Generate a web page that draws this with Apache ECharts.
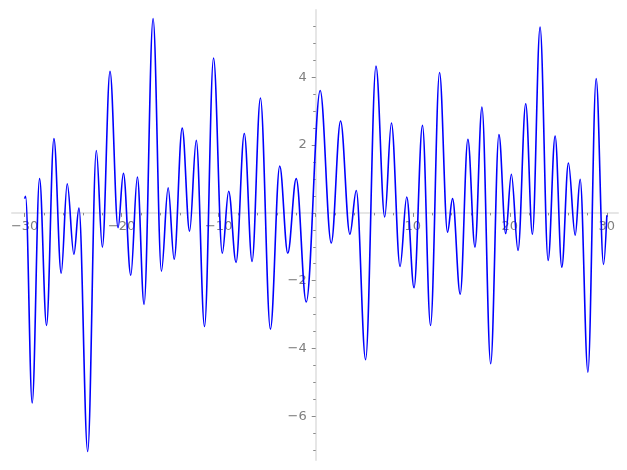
<!DOCTYPE html>
<html>
<head>
<meta charset="utf-8">
<style>html,body{margin:0;padding:0;background:#fff}#c{width:627px;height:470px}</style>
<script src="https://cdn.jsdelivr.net/npm/echarts@6/dist/echarts.min.js"></script>
</head>
<body>
<div id="c"></div>
<script>
// Curve samples (extrema of the curve)
const xValues = [-30, -29.9, -29.22, -28.46, -27.74, -26.98, -26.23, -25.61, -24.92, -24.40,
  -23.50, -22.61, -21.99, -21.20, -20.37, -19.82, -19.06, -18.38, -17.69, -16.76,
  -15.90, -15.21, -14.59, -13.76, -13.00, -12.31, -11.46, -10.53, -9.63, -8.97,
  -8.21, -7.36, -6.56, -5.70, -4.67, -3.71, -2.88, -2.01, -0.98, 0.46,
  1.60, 2.56, 3.52, 4.18, 5.14, 6.21, 7.11, 7.80, 8.69, 9.38,
  10.13, 11.00, 11.83, 12.76, 13.58, 14.10, 14.89, 15.68, 16.41, 17.13,
  18.03, 18.88, 19.58, 20.16, 20.85, 21.64, 22.33, 23.12, 23.95, 24.67,
  25.36, 26.04, 26.74, 27.25, 28.05, 28.90, 29.66, 30];
const yValues = [0.42, 0.49, -5.61, 1.01, -3.32, 2.19, -1.78, 0.86, -1.22, 0.14,
  -7.04, 1.84, -1.01, 4.18, -0.44, 1.17, -1.84, 1.06, -2.70, 5.73,
  -1.72, 0.74, -1.37, 2.50, -0.54, 2.14, -3.35, 4.57, -1.19, 0.64,
  -1.46, 2.34, -1.43, 3.39, -3.43, 1.38, -1.19, 1.01, -2.63, 3.61,
  -0.89, 2.71, -0.63, 0.66, -4.33, 4.33, -0.12, 2.65, -1.58, 0.47,
  -2.21, 2.58, -3.32, 4.14, -0.57, 0.42, -2.40, 2.17, -1.01, 3.12,
  -4.45, 2.31, -0.61, 1.14, -1.11, 3.22, -0.63, 5.48, -1.40, 2.27,
  -1.60, 1.47, -0.66, 0.99, -4.70, 3.96, -1.52, -0.07];

const xMajorTicks = [-30, -20, -10, 0, 10, 20, 30];
const xTickLabels = [-30, -20, -10, 10, 20, 30];
const xMinorTicks = [-28, -26, -24, -22, -18, -16, -14, -12, -8, -6, -4, -2,
  2, 4, 6, 8, 12, 14, 16, 18, 22, 24, 26, 28];
const yMajorTicks = [-6, -4, -2, 0, 2, 4];
const yTickLabels = [-6, -4, -2, 2, 4];
const yMinorTicks = [-7, -6.5, -5.5, -5, -4.5, -3.5, -3, -2.5, -1.5, -1, -0.5,
  0.5, 1, 1.5, 2.5, 3, 3.5, 4.5, 5, 5.5];

const X_MIN = -31.3, X_MAX = 31.15, Y_MIN = -7.29, Y_MAX = 5.985;

const W = 627, H = 470;
const G = {left: 12, right: 9, top: 10, bottom: 10};
const gw = W - G.left - G.right, gh = H - G.top - G.bottom;
// place the axes through the origin (spines at zero)
const yAxisOffset = -((0 - X_MIN) / (X_MAX - X_MIN) * gw);
const xAxisOffset = -((0 - Y_MIN) / (Y_MAX - Y_MIN) * gh);

const data = xValues.map((x, i) => [x, yValues[i]]);
const fmt = v => String(v).replace('-', '\u2212');
const labelStyle = {color: '#7f7f7f', fontSize: 13, fontFamily: 'DejaVu Sans'};
const tickColor = '#8a8a8a';

function xAx(ticks, len, labels, line) {
  return {
    type: 'value', min: X_MIN, max: X_MAX, position: 'bottom', offset: xAxisOffset,
    axisLine: {show: line, onZero: false, lineStyle: {color: '#e6e6e6', width: 2}},
    axisTick: {show: true, customValues: ticks, length: len, lineStyle: {color: tickColor, width: 1}},
    axisLabel: labels ? {show: true, customValues: labels, formatter: fmt, margin: 7, ...labelStyle} : {show: false},
    splitLine: {show: false}
  };
}
function yAx(ticks, len, labels, line) {
  return {
    type: 'value', min: Y_MIN, max: Y_MAX, position: 'left', offset: yAxisOffset,
    axisLine: {show: line, onZero: false, lineStyle: {color: '#e6e6e6', width: 2}},
    axisTick: {show: true, customValues: ticks, length: len, lineStyle: {color: tickColor, width: 1}},
    axisLabel: labels ? {show: true, customValues: labels, formatter: fmt, margin: 9, ...labelStyle} : {show: false},
    splitLine: {show: false}
  };
}

const chart = echarts.init(document.getElementById('c'), null, {renderer: 'canvas'});
chart.setOption({
  animation: false,
  backgroundColor: '#ffffff',
  grid: {left: G.left, right: G.right, top: G.top, bottom: G.bottom, containLabel: false, outerBoundsMode: 'none'},
  xAxis: [xAx(xMajorTicks, 4, xTickLabels, true), xAx(xMinorTicks, 2.5, null, false)],
  yAxis: [yAx(yMajorTicks, 4, yTickLabels, true), yAx(yMinorTicks, 2.5, null, false)],
  series: [{
    type: 'line',
    xAxisIndex: 0, yAxisIndex: 0,
    data: data,
    showSymbol: false,
    smooth: 0.36,
    smoothMonotone: 'x',
    lineStyle: {color: '#0000ff', width: 1.6},
    itemStyle: {color: '#0000ff'},
    clip: false,
    z: 5
  }]
});
</script>
</body>
</html>
